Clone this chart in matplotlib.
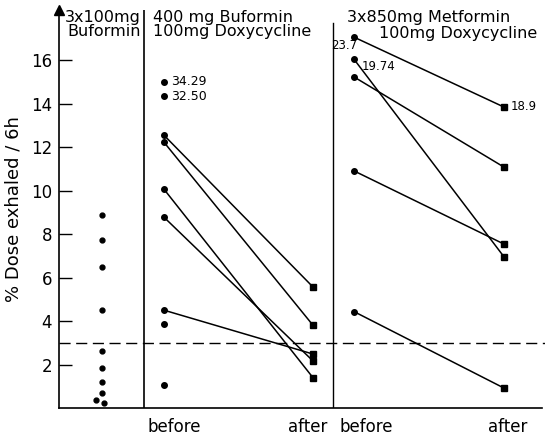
import numpy as np
import matplotlib.pyplot as plt

# panel 1: 3x100 mg buformin, single values
bufo_only = [8.87, 7.72, 6.48, 4.5, 2.63, 1.82, 1.19, 0.70, 0.37, 0.22]
bufo_only_dx = [0, 0, 0, 0, 0, 0, 0, 0, -0.12, 0.05]

# panel 2: 400 mg buformin + doxycycline
p2_before = [12.55, 12.23, 10.07, 8.78, 4.5]
p2_after = [5.56, 3.80, 1.39, 2.16, 2.48]
p2_single = [15.0, 14.34, 3.86, 1.06]
p2_single_lbl = ['34.29', '32.50', '', '']

# panel 3: metformin + doxycycline
p3_before = [17.05, 16.03, 15.22, 10.9, 4.43]
p3_after = [13.84, 6.96, 11.08, 7.54, 0.92]

threshold = 3.0

# x layout (arbitrary units)
x_single, x_div1, x_b2, x_a2, x_div2, x_b3, x_a3 = 0.89, 1.76, 2.17, 5.26, 5.67, 6.11, 9.21

fig = plt.figure(figsize=(5.45, 4.36), dpi=100)
ax = fig.add_axes([59/545, 28/436, 483/545, 398/436])
ax.set_xlim(0, 10)
ax.set_ylim(0, 18.3)

for s in ['top', 'right']:
    ax.spines[s].set_visible(False)
ax.spines['left'].set_linewidth(1.2)
ax.spines['bottom'].set_linewidth(1.2)

ax.set_yticks([2, 4, 6, 8, 10, 12, 14, 16])
ax.tick_params(axis='y', direction='in', length=9, width=1, labelsize=12, pad=5)
ax.set_xticks([])
ax.set_ylabel('% Dose exhaled / 6h', fontsize=13, labelpad=6)

# arrow on y axis
ax.plot(0, 18.3, marker='^', color='black', markersize=7, clip_on=False)

# dividers
ax.axvline(x_div1, color='black', lw=1.2)
ax.axvline(x_div2, color='black', lw=1.0, ymax=17.7/18.3)

# threshold
ax.plot([0, 10.1], [threshold, threshold], color='black', lw=1.0, dashes=(8, 4), clip_on=False)

# panel 1
ax.plot(np.array([x_single]*len(bufo_only)) + np.array(bufo_only_dx), bufo_only,
        'o', color='black', markersize=3.5)

# panel 2
for b, a in zip(p2_before, p2_after):
    ax.plot([x_b2, x_a2], [b, a], color='black', lw=1.1)
ax.plot([x_b2]*len(p2_before), p2_before, 'o', color='black', markersize=4)
ax.plot([x_a2]*len(p2_after), p2_after, 's', color='black', markersize=5)
ax.plot([x_b2]*len(p2_single), p2_single, 'o', color='black', markersize=4)
for v, t in zip(p2_single, p2_single_lbl):
    if t:
        ax.text(x_b2 + 0.15, v, t, fontsize=9, va='center', ha='left')

# panel 3
for b, a in zip(p3_before, p3_after):
    ax.plot([x_b3, x_a3], [b, a], color='black', lw=1.1)
ax.plot([x_b3]*len(p3_before), p3_before, 'o', color='black', markersize=4)
ax.plot([x_a3]*len(p3_after), p3_after, 's', color='black', markersize=5)
ax.text(x_b3 + 0.06, p3_before[0] - 0.1, '23.7', fontsize=8.5, ha='right', va='top')
ax.text(x_b3 + 0.15, p3_before[1] - 0.05, '19.74', fontsize=8.5, ha='left', va='top')
ax.text(x_a3 + 0.15, p3_after[0], '18.9', fontsize=8.5, ha='left', va='center')

# headers
ax.text(x_div1 - 0.06, 18.3, '3x100mg\nBuformin', fontsize=11.5, ha='right', va='top', linespacing=0.95)
ax.text(x_div1 + 0.18, 18.3, '400 mg Buformin\n100mg Doxycycline', fontsize=11.5, ha='left', va='top', linespacing=0.95)
ax.text(x_div2 + 0.3, 18.3, '3x850mg Metformin', fontsize=11.5, ha='left', va='top')
ax.text(x_div2 + 0.95, 17.55, '100mg Doxycycline', fontsize=11.5, ha='left', va='top')

# x labels
for x, t in [(x_b2 + 0.22, 'before'), (x_a2 - 0.12, 'after'),
             (x_b3 + 0.25, 'before'), (x_a3 + 0.08, 'after')]:
    ax.text(x, -0.45, t, fontsize=12, ha='center', va='top')

fig.savefig('out.png', dpi=100)
